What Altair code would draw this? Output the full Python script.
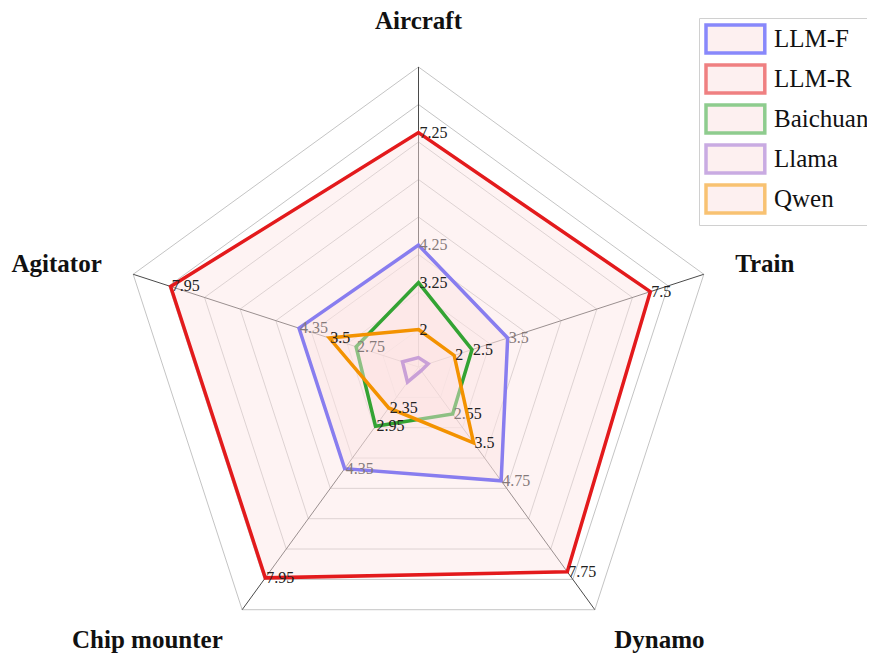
import math
import altair as alt
import pandas as pd

# ---------------- data ----------------
axis_names = ["Aircraft", "Train", "Dynamo", "Chip mounter", "Agitator"]
series_names = ["LLM-F", "LLM-R", "Baichuan", "Llama", "Qwen"]
llm_f = [4.25, 3.5, 4.75, 4.35, 4.35]
llm_r = [7.25, 7.5, 7.75, 7.95, 7.95]
baichuan = [3.25, 2.5, 2.55, 2.95, 2.75]
llama = [1.25, 1.27, 1.12, 1.5, 1.45]
qwen = [2, 2, 3.5, 2.35, 3.5]
series_values = [llm_f, llm_r, baichuan, llama, qwen]
show_value_labels = [True, True, True, False, True]
grid_levels = [2, 3, 4, 5, 6, 7, 8, 9]

# ---------------- style ----------------
series_colors = ["#2828f8", "#e31a1c", "#33a333", "#9e68cc", "#f39200"]
radial_min, radial_max = 1, 9
name_radius = 9.88
# (align, baseline, dy) for each axis name
name_style = [("center", "bottom", 0), ("left", "middle", 0),
              ("left", "alphabetic", 12), ("right", "alphabetic", 12),
              ("right", "middle", 0)]

W, H = 859, 645
CX, CY, PX = 410.5, 359.0, 37.5
xdom = [-CX / PX, (W - CX) / PX]
ydom = [-(H - CY) / PX, CY / PX]
xs = alt.Scale(domain=xdom, nice=False, zero=False)
ys = alt.Scale(domain=ydom, nice=False, zero=False)


def pos(value, k):
    r = value - radial_min
    ang = 2 * math.pi * k / len(axis_names)
    return r * math.sin(ang), r * math.cos(ang)


def X():
    return alt.X("x:Q", scale=xs, axis=None)


def Y():
    return alt.Y("y:Q", scale=ys, axis=None)


layers = []

# grid rings
ring_rows = []
for lv in grid_levels:
    for k in range(len(axis_names)):
        x, y = pos(lv, k)
        ring_rows.append({"level": lv, "k": k, "x": x, "y": y})
rings = alt.Chart(pd.DataFrame(ring_rows)).mark_line(
    interpolate="linear-closed", stroke="#c4c4c4", strokeWidth=1
).encode(x=X(), y=Y(), detail="level:N", order="k:Q")
layers.append(rings)

# spokes
spoke_rows = []
for k in range(len(axis_names)):
    x0, y0 = pos(radial_min, k)
    x1, y1 = pos(radial_max, k)
    spoke_rows.append({"x": x0, "y": y0, "x2": x1, "y2": y1})
spokes = alt.Chart(pd.DataFrame(spoke_rows)).mark_rule(
    stroke="#4a4a4a", strokeWidth=1
).encode(x=X(), y=Y(), x2="x2:Q", y2="y2:Q")
layers.append(spokes)

color_scale = alt.Scale(domain=series_names, range=series_colors)
legend = alt.Legend(
    title=None, orient="none", legendX=691, legendY=10,
    symbolType="M-1,-1L3.2,-1L3.2,1L-1,1Z", symbolSize=784,
    symbolStrokeWidth=3.5, symbolFillColor="#fce4e4", symbolOpacity=0.55,
    labelFont="Liberation Serif", labelFontSize=25, labelColor="#111",
    labelOffset=38, rowPadding=-2, padding=5,
    strokeColor="#d0d0d0", fillColor="white",
)

for si, (name, vals) in enumerate(zip(series_names, series_values)):
    rows = []
    for k, v in enumerate(vals):
        x, y = pos(v, k)
        rows.append({"series": name, "k": k, "x": x, "y": y,
                     "label": f"{v:g}"})
    df = pd.DataFrame(rows)
    base = alt.Chart(df)
    fill = base.mark_line(
        interpolate="linear-closed", fill="#fce4e4", fillOpacity=0.45,
        strokeOpacity=0
    ).encode(x=X(), y=Y(), order="k:Q")
    line = base.mark_line(
        interpolate="linear-closed", strokeWidth=3.5
    ).encode(x=X(), y=Y(), order="k:Q",
             color=alt.Color("series:N", scale=color_scale, legend=legend))
    layers += [fill, line]
    if show_value_labels[si]:
        txt = base.mark_text(
            align="left", baseline="middle", dx=1, fontSize=16,
            font="Liberation Serif", color="#222"
        ).encode(x=X(), y=Y(), text="label:N")
        layers.append(txt)

# axis names
for k, name in enumerate(axis_names):
    x, y = pos(name_radius, k)
    a, b, dy = name_style[k]
    lab = alt.Chart(pd.DataFrame([{"x": x, "y": y, "name": name}])).mark_text(
        align=a, baseline=b, dy=dy, fontSize=25, fontWeight="bold",
        font="Liberation Serif", color="#111"
    ).encode(x=X(), y=Y(), text="name:N")
    layers.append(lab)

chart = alt.layer(*layers).properties(
    width=W, height=H, padding=0, autosize="none", background="white"
).configure_view(stroke=None)

chart.save("out.html", embed_options={"renderer": "svg", "actions": False})
